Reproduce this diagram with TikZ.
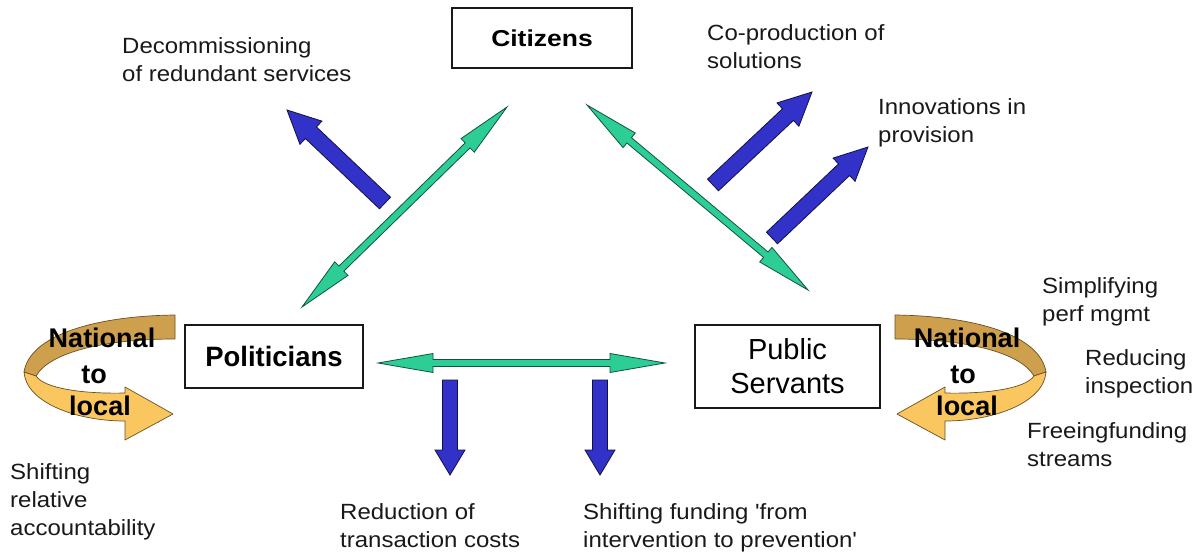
\documentclass[tikz,border=0pt]{standalone}
\usepackage{fontspec}
\setmainfont{Liberation Sans}
\newfontfamily\bodyfont{Liberation Sans}[FakeStretch=1.09]
\newfontfamily\citfont{Liberation Sans}[FakeStretch=1.15]
\newfontfamily\polfont{Liberation Sans}[FakeStretch=0.98]
\usetikzlibrary{calc}

\definecolor{arrowblue}{RGB}{50,50,200}
\definecolor{arrowgreen}{RGB}{44,206,150}
\definecolor{bandback}{RGB}{206,160,78}
\definecolor{bandfront}{RGB}{250,198,96}
\definecolor{bandline}{RGB}{105,80,35}

\tikzset{
  blockblue/.style={fill=arrowblue, draw=black!65!arrowblue, line width=0.8pt, line join=miter},
  linkgreen/.style={fill=arrowgreen, draw=black!60!arrowgreen, line width=0.8pt, line join=miter},
  actor/.style={draw=black!90, line width=1.4pt, fill=white, inner sep=0pt, align=center},
  note/.style={anchor=north west, inner sep=0pt, align=left, text=black!90,
               font=\bodyfont\fontsize{22}{28}\selectfont},
  swirltext/.style={inner sep=0pt, text=black, font=\bfseries\fontsize{27}{27}\selectfont},
  band/.style={draw=bandline, line width=0.7pt, line join=round}
}

% single block arrow: style, tail, tip, shaft half width, head half width, head length
\newcommand\blockarrow[6]{%
  \draw[#1] ($(#2)!#4!90:(#3)$)
    -- ($(#3)!#6!(#2)!#4!90:(#3)$)
    -- ($(#3)!#6!(#2)!#5!90:(#3)$)
    -- (#3)
    -- ($(#3)!#6!(#2)!#5!-90:(#3)$)
    -- ($(#3)!#6!(#2)!#4!-90:(#3)$)
    -- ($(#2)!#4!-90:(#3)$)
    -- cycle;}

% double-headed arrow: style, end A, end B, shaft half width, head half width, head length
\newcommand\doublearrow[6]{%
  \draw[#1] (#2)
    -- ($(#2)!#6!(#3)!#5!90:(#3)$)
    -- ($(#2)!#6!(#3)!#4!90:(#3)$)
    -- ($(#3)!#6!(#2)!#4!90:(#3)$)
    -- ($(#3)!#6!(#2)!#5!90:(#3)$)
    -- (#3)
    -- ($(#3)!#6!(#2)!#5!-90:(#3)$)
    -- ($(#3)!#6!(#2)!#4!-90:(#3)$)
    -- ($(#2)!#6!(#3)!#4!-90:(#3)$)
    -- ($(#2)!#6!(#3)!#5!-90:(#3)$)
    -- cycle;}

% curled ribbon arrow: back band, then front band with its head
\newcommand\swirlbands{%
  \filldraw[band, fill=bandback]
    (175,315) .. controls (95,316) and (30,335) .. (24,372)
    -- (36,376) .. controls (50,352) and (105,339) .. (175,339) -- cycle;
  \filldraw[band, fill=bandfront]
    (24,372) .. controls (26,402) and (75,421) .. (125,421)
    -- (125,440) -- (173,414) -- (125,387) -- (125,393)
    .. controls (85,394) and (45,389) .. (36,376) -- cycle;
}

\begin{document}
\begin{tikzpicture}[x=1pt, y=-1pt]
\fill[white] (0,0) rectangle (1195,554);
\useasboundingbox (0,0) rectangle (1195,554);

% ribbons "national to local"
\swirlbands
\begin{scope}[xshift=1070pt, xscale=-1]
  \swirlbands
\end{scope}
\node[swirltext] (lnat) at (102,338) {National};
\node[swirltext] (lto)  at (94,375)  {to};
\node[swirltext] (lloc) at (100,406) {local};
\node[swirltext] (rnat) at (967,338) {National};
\node[swirltext] (rto)  at (963,375) {to};
\node[swirltext] (rloc) at (967,406) {local};

% the three actors
\node[actor, minimum width=180pt, minimum height=60pt,
      font=\citfont\bfseries\fontsize{23}{23}\selectfont] (cit) at (542,38) {Citizens};
\node[actor, minimum width=178pt, minimum height=63pt,
      font=\polfont\bfseries\fontsize{28}{28}\selectfont] (pol) at (274,356.5) {Politicians};
\node[actor, minimum width=185pt, minimum height=83pt,
      font=\fontsize{29}{34}\selectfont] (pub) at (787.5,366.5) {Public\\Servants};

% relationships between actors
\coordinate (cpA) at (302,307); \coordinate (cpB) at (507,107);
\coordinate (csA) at (587,105); \coordinate (csB) at (808,290);
\coordinate (psA) at (378,363); \coordinate (psB) at (665,363);
\doublearrow{linkgreen}{cpA}{cpB}{3.5pt}{9.5pt}{55pt}
\doublearrow{linkgreen}{csA}{csB}{3.5pt}{9.5pt}{55pt}
\doublearrow{linkgreen}{psA}{psB}{3.5pt}{9.5pt}{55pt}

% outcomes
\coordinate (decT) at (385,203); \coordinate (decH) at (287,110);
\coordinate (copT) at (713,185); \coordinate (copH) at (812,92);
\coordinate (innT) at (772,238); \coordinate (innH) at (868,147);
\coordinate (trT) at (450,380);  \coordinate (trH) at (450,475);
\coordinate (fuT) at (600,380);  \coordinate (fuH) at (600,475);
\blockarrow{blockblue}{decT}{decH}{8pt}{16pt}{33pt}
\blockarrow{blockblue}{copT}{copH}{8pt}{16pt}{33pt}
\blockarrow{blockblue}{innT}{innH}{8pt}{16pt}{33pt}
\blockarrow{blockblue}{trT}{trH}{7.5pt}{15pt}{25pt}
\blockarrow{blockblue}{fuT}{fuH}{7.5pt}{15pt}{25pt}

% labels
\node[note] (tdec) at (122,37)   {Decommissioning\\of redundant services};
\node[note] (tcop) at (707,24)   {Co-production of\\solutions};
\node[note] (tinn) at (878,98)   {Innovations in\\provision};
\node[note] (tsim) at (1042,277) {Simplifying\\perf mgmt};
\node[note] (tred) at (1085,349) {Reducing\\inspection};
\node[note] (tfre) at (1027,422) {Freeingfunding\\streams};
\node[note] (tshr) at (10,463)   {Shifting\\relative\\accountability};
\node[note] (ttra) at (340,503)  {Reduction of\\transaction costs};
\node[note] (tfun) at (583,503)  {Shifting funding 'from\\intervention to prevention'};
\end{tikzpicture}
\end{document}
